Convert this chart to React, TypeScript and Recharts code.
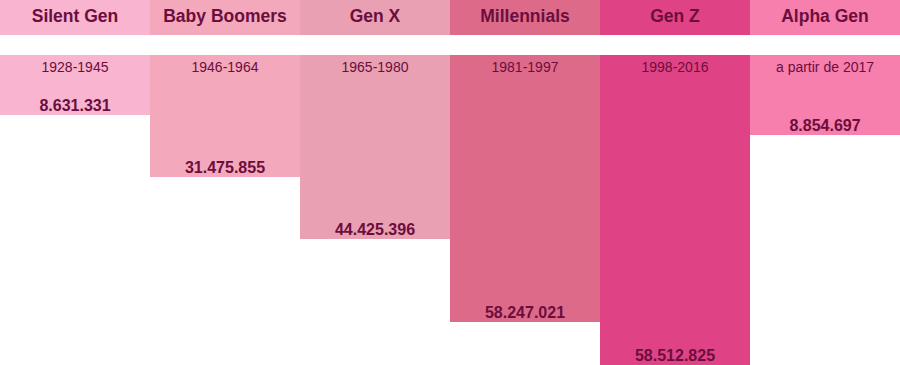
import { BarChart, Bar, XAxis, YAxis, Cell, LabelList } from "recharts";

const generations = ["Silent Gen", "Baby Boomers", "Gen X", "Millennials", "Gen Z", "Alpha Gen"];
const birthYears = ["1928-1945", "1946-1964", "1965-1980", "1981-1997", "1998-2016", "a partir de 2017"];
const population = ["8.631.331", "31.475.855", "44.425.396", "58.247.021", "58.512.825", "8.854.697"];
// bar depth as drawn in the infographic (relative units, not proportional to population)
const barDepth = [60, 122, 184, 267, 310, 80];
const colors = ["#f9b4d0", "#f3a8bc", "#e8a0b2", "#de6a8a", "#e04385", "#f77fae"];

const WIDTH = 900;
const HEIGHT = 365;
const HEADER = 37;
const AXIS_H = 55;
const TEXT = "#6b0e3d";
const FONT = "'Liberation Sans', Arial, sans-serif";

const data = generations.map((name, i) => ({
  name,
  years: birthYears[i],
  pop: population[i],
  depth: barDepth[i],
}));

const colW = WIDTH / generations.length;

const HeaderTick = (props: any) => {
  const { x, y, payload } = props;
  const top = y - AXIS_H;
  return (
    <g>
      <rect x={x - colW / 2} y={top} width={colW} height={HEADER} fill={colors[payload.index]} />
      <text
        x={x}
        y={top + 24}
        textAnchor="middle"
        fontFamily={FONT}
        fontWeight="bold"
        fontSize={17.5}
        fill={TEXT}
      >
        {payload.value}
      </text>
    </g>
  );
};

const YearLabel = (props: any) => {
  const { x, y, width, height, value } = props;
  const top = Math.min(y, y + height);
  return (
    <text x={x + width / 2} y={top + 17} textAnchor="middle" fontFamily={FONT} fontSize={14} fill={TEXT}>
      {value}
    </text>
  );
};

const PopLabel = (props: any) => {
  const { x, y, width, height, value } = props;
  const bottom = Math.max(y, y + height);
  return (
    <text
      x={x + width / 2}
      y={bottom - 4}
      textAnchor="middle"
      fontFamily={FONT}
      fontWeight="bold"
      fontSize={16}
      fill={TEXT}
    >
      {value}
    </text>
  );
};

export default function App() {
  return (
    <div style={{ position: "absolute", top: 0, left: 0, width: WIDTH, height: HEIGHT, background: "#fff" }}>
      <BarChart
        width={WIDTH}
        height={HEIGHT}
        data={data}
        margin={{ top: 0, right: 0, bottom: 0, left: 0 }}
        barCategoryGap={0}
        barGap={0}
      >
        <XAxis
          dataKey="name"
          orientation="top"
          height={AXIS_H}
          interval={0}
          axisLine={false}
          tickLine={false}
          tickSize={0}
          tick={<HeaderTick />}
        />
        <YAxis hide reversed domain={[0, 310]} />
        <Bar dataKey="depth" isAnimationActive={false}>
          {data.map((d, i) => (
            <Cell key={d.name} fill={colors[i]} />
          ))}
          <LabelList dataKey="years" content={<YearLabel />} />
          <LabelList dataKey="pop" content={<PopLabel />} />
        </Bar>
      </BarChart>
    </div>
  );
}
